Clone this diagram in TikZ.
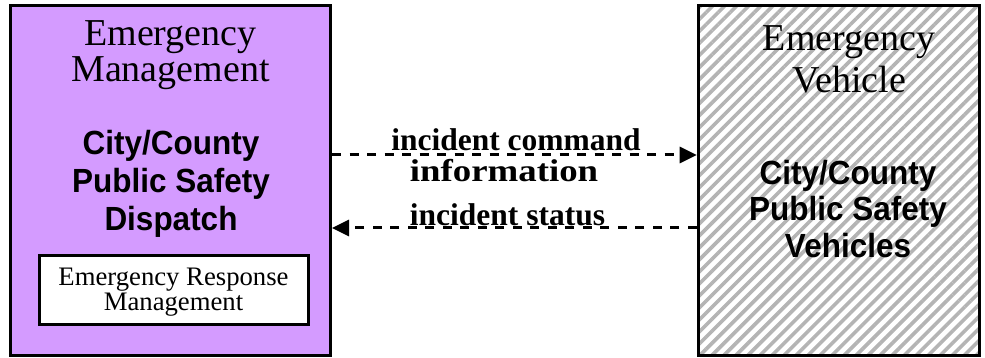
\documentclass[tikz,border=0pt]{standalone}
\usepackage{fontspec}
\setmainfont{Liberation Serif}
\newfontfamily\sansfam{Liberation Sans}[FakeStretch=0.94]
\usetikzlibrary{arrows.meta,patterns.meta}
\definecolor{empurple}{RGB}{212,155,255}
\definecolor{hatchgray}{RGB}{180,180,180}
\begin{document}
\begin{tikzpicture}[x=1pt,y=-1pt,
  box/.style={draw=black,line width=3pt,inner sep=0pt},
  titletext/.style={font=\fontsize{38}{35}\selectfont,inner sep=0pt,anchor=base},
  sysname/.style={font=\sansfam\bfseries\fontsize{33.5}{36}\selectfont,inner sep=0pt,anchor=base},
  innertext/.style={font=\fontsize{26.7}{25}\selectfont,inner sep=0pt,anchor=base},
  flowlabel/.style={font=\bfseries\fontsize{31.5}{32}\selectfont,inner sep=0pt,anchor=base},
  flow/.style={draw=black,line width=3pt,dash pattern=on 9pt off 8.5pt,-{Triangle[length=17pt,width=16pt]}}
]
\useasboundingbox (0,0) rectangle (985,358);
% left box
\node[box,fill=empurple,minimum width=320pt,minimum height=350pt] (em) at (170.5,180.5) {};
\node[titletext] (emt1) at (170.5,45.5) {Emergency};
\node[titletext] (emt2) at (170.5,82) {Management};
\node[sysname] (ems1) at (171,155) {City/County};
\node[sysname] (ems2) at (171,192.5) {Public Safety};
\node[sysname] (ems3) at (171,230) {Dispatch};
\node[box,fill=white,minimum width=268.5pt,minimum height=69pt] (erm) at (173.75,289.5) {};
\node[innertext] (erm1) at (173.5,285.5) {Emergency Response};
\node[innertext] (erm2) at (173.5,310.5) {Management};
% right box
\node[box,pattern={Lines[angle=45,distance=8.5pt,line width=3.6pt]},pattern color=hatchgray,
      minimum width=281pt,minimum height=350pt] (ev) at (839,180.5) {};
\node[titletext] (evt1) at (849,51) {Emergency};
\node[titletext] (evt2) at (849,92.5) {Vehicle};
\node[sysname] (evs1) at (848,184.5) {City/County};
\node[sysname] (evs2) at (848,221) {Public Safety};
\node[sysname] (evs3) at (848,257.5) {Vehicles};
% flows
\coordinate (f1) at ([yshift=25.5pt]em.east);
\coordinate (f2) at ([yshift=-47.5pt]em.east);
\draw[flow] (f1) -- (f1 -| ev.west);
\draw[flow] (f2 -| ev.west) -- (f2);
\node[flowlabel] (l1) at (516,151) {incident command};
\node[flowlabel] (l2) at (504,182) {\scalebox{1.17}[1]{information}};
\node[flowlabel] (l3) at (507.5,225.5) {incident status};
\end{tikzpicture}
\end{document}
